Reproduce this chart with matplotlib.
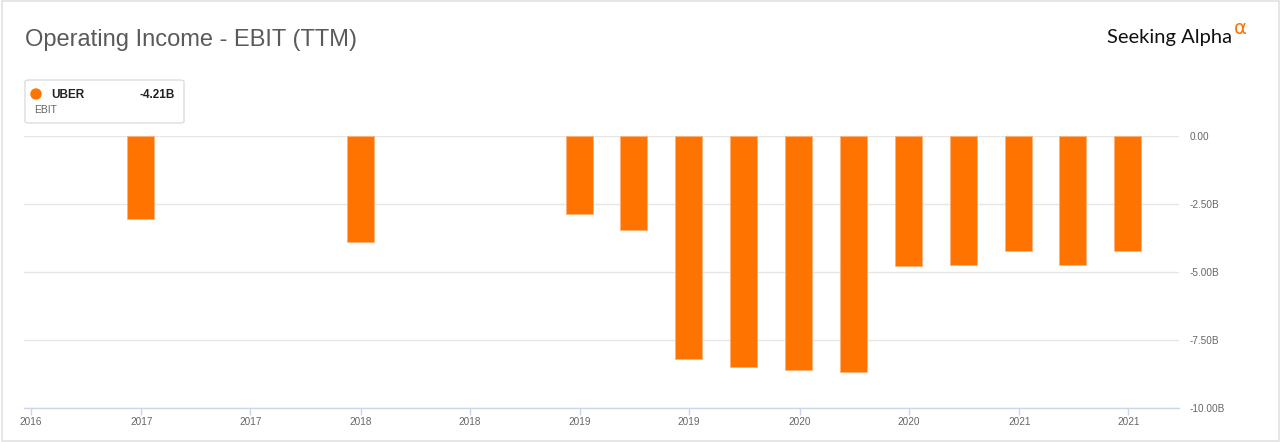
import datetime as dt
import matplotlib
matplotlib.use('Agg')
import matplotlib.pyplot as plt
import matplotlib.dates as mdates
from matplotlib.patches import FancyBboxPatch, Rectangle, Ellipse
from matplotlib.ticker import FuncFormatter, MultipleLocator

plt.rcParams['font.family'] = ['Liberation Sans', 'DejaVu Sans']

# EBIT (TTM) for UBER, billions
period_end = ['2016-12-31', '2017-12-31', '2018-12-31', '2019-03-31', '2019-06-30',
              '2019-09-30', '2019-12-31', '2020-03-31', '2020-06-30', '2020-09-30',
              '2020-12-31', '2021-03-31', '2021-06-30']
ebit_b = [-3.04, -3.88, -2.87, -3.44, -8.19, -8.50, -8.60, -8.65, -4.78, -4.72,
          -4.24, -4.72, -4.21]
ticker = 'UBER'
series_name = 'EBIT'
last_value = '-4.21B'
title = 'Operating Income - EBIT (TTM)'

ORANGE = '#ff7400'
GREY_TXT = '#666666'
W, H = 1280, 442

dates = [dt.datetime.strptime(d, '%Y-%m-%d') for d in period_end]


def fx(x):
    return x / W


def fy(y):
    return 1 - y / H


fig = plt.figure(figsize=(W / 100, H / 100), dpi=100)
fig.patch.set_facecolor('white')

# outer frame
fig.patches.append(Rectangle((fx(1.5), fy(440.5)), fx(1277), (440.5 - 0.5) / H,
                             transform=fig.transFigure, fill=False, ec='#e2e2e2', lw=1.2))

ax = fig.add_axes([fx(24.3), fy(408.3), fx(1178.7 - 24.3), (408.3 - 136) / H])
ax.bar(dates, ebit_b, width=45, color=ORANGE, edgecolor='#ffb27a', linewidth=0.6, zorder=3)

ax.set_ylim(-10, 0)
ax.set_xlim(dt.datetime(2016, 6, 20), dt.datetime(2021, 9, 23))
ax.yaxis.set_major_locator(MultipleLocator(2.5))
ax.yaxis.set_major_formatter(FuncFormatter(lambda v, _: '0.00' if abs(v) < 1e-9 else f'{v:.2f}B'))
ax.yaxis.tick_right()
ax.tick_params(axis='y', length=0, pad=8, labelsize=7.2, labelcolor=GREY_TXT)
ax.grid(axis='y', color='#e6e6e6', lw=1, zorder=0)
ax.set_axisbelow(True)

ax.xaxis.set_major_locator(mdates.MonthLocator(bymonth=[1, 7]))
ax.xaxis.set_major_formatter(mdates.DateFormatter('%Y'))
ax.tick_params(axis='x', length=5, width=1, color='#ccd6eb', pad=1.5,
               labelsize=7.2, labelcolor=GREY_TXT)

for s in ['top', 'left', 'right']:
    ax.spines[s].set_visible(False)
ax.spines['bottom'].set_color('#ccd6eb')
ax.spines['bottom'].set_linewidth(1)
ax.spines['bottom'].set_zorder(4)

# title
fig.text(fx(25), fy(40), title, fontsize=17.0, color='#5a5a5a', va='center', ha='left')

# logo
fig.text(fx(1232), fy(37), 'Seeking Alpha', fontsize=14.5, color='#111111', ha='right',
         va='center', family=['Lato', 'DejaVu Sans'])
fig.text(fx(1234), fy(28), '\u03b1', fontsize=14, color=ORANGE, ha='left',
         va='center', family=['DejaVu Sans'])

# legend box
fig.patches.append(FancyBboxPatch((fx(25), fy(123)), fx(184 - 25), (123 - 80) / H,
                                  boxstyle='round,pad=0,rounding_size=0.004',
                                  transform=fig.transFigure, fc='white', ec='#dddddd', lw=1))
fig.patches.append(Ellipse((fx(36), fy(94)), fx(10), 10 / H, transform=fig.transFigure,
                           color=ORANGE))
fig.text(fx(51), fy(95), ticker, fontsize=8.5, fontweight='bold', color='#222222',
         va='center', ha='left')
fig.text(fx(175), fy(95), last_value, fontsize=8.5, fontweight='bold', color='#222222',
         va='center', ha='right')
fig.text(fx(34), fy(110), series_name, fontsize=7.5, color=GREY_TXT, va='center', ha='left')

fig.savefig('out.png', dpi=100)
